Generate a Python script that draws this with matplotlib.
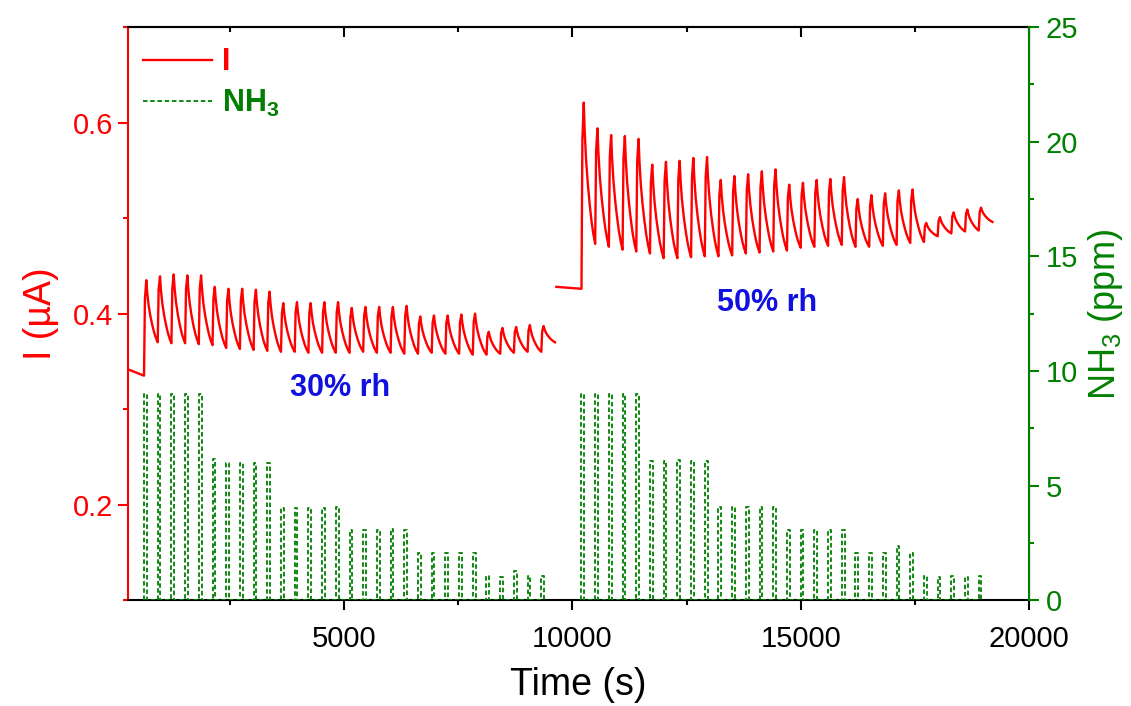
import numpy as np
import matplotlib
matplotlib.use('Agg')
import matplotlib.pyplot as plt
from matplotlib.ticker import MultipleLocator

plt.rcParams['font.family'] = 'Liberation Sans'
plt.rcParams['mathtext.default'] = 'regular'

# pulse timing (s)
period = 300
pulse_on = 60
t_start_30 = 620
t_start_50 = 10200

# NH3 pulse heights (ppm), 6 groups x 5 pulses
nh3_30 = [9.0, 9.0, 9.0, 9.0, 9.0,
          6.15, 6.0, 6.0, 6.0, 6.0,
          4.0, 4.0, 4.0, 4.0, 4.05,
          3.05, 3.05, 3.05, 3.1, 3.05,
          2.05, 2.05, 2.05, 2.05, 2.05,
          1.05, 1.0, 1.27, 1.05, 1.05]
nh3_50 = [9.0, 9.0, 9.0, 9.0, 9.0,
          6.05, 6.05, 6.1, 6.05, 6.05,
          4.05, 4.05, 4.05, 4.05, 4.05,
          3.05, 3.05, 3.05, 3.05, 3.05,
          2.05, 2.05, 2.05, 2.35, 2.05,
          1.05, 1.0, 1.05, 1.0, 1.05]

# current response (uA): peak of each cycle and value at its end
peak_30 = [0.435, 0.439, 0.441, 0.440, 0.440,
           0.428, 0.426, 0.426, 0.425, 0.423,
           0.411, 0.412, 0.411, 0.412, 0.412,
           0.406, 0.407, 0.407, 0.407, 0.408,
           0.397, 0.398, 0.398, 0.399, 0.400,
           0.381, 0.385, 0.386, 0.388, 0.387]
trough_30 = [0.370, 0.369, 0.369, 0.368, 0.367,
             0.364, 0.363, 0.362, 0.361, 0.360,
             0.360, 0.359, 0.359, 0.359, 0.359,
             0.360, 0.359, 0.359, 0.358, 0.358,
             0.359, 0.358, 0.358, 0.357, 0.357,
             0.358, 0.359, 0.360, 0.360, 0.370]
peak_50 = [0.621, 0.594, 0.587, 0.586, 0.583,
           0.556, 0.559, 0.560, 0.563, 0.564,
           0.540, 0.544, 0.546, 0.549, 0.551,
           0.535, 0.537, 0.540, 0.541, 0.543,
           0.520, 0.524, 0.526, 0.529, 0.530,
           0.495, 0.501, 0.506, 0.509, 0.511]
trough_50 = [0.473, 0.470, 0.467, 0.465, 0.463,
             0.458, 0.458, 0.459, 0.460, 0.460,
             0.461, 0.463, 0.464, 0.465, 0.466,
             0.469, 0.470, 0.471, 0.472, 0.470,
             0.470, 0.471, 0.472, 0.474, 0.475,
             0.481, 0.484, 0.486, 0.487, 0.496]

# baseline before the first pulse: (time, current)
base_30 = ([250, 620], [0.342, 0.335])
base_50 = ([9650, 10200], [0.428, 0.426])

# shape of one response cycle (s after pulse start, fraction of peak height)
cyc_t = [0, 20, 50, 70, 100, 140, 180, 220, 260, 300]
cyc_f = [0, 0.8, 1, 0.8, 0.6, 0.42, 0.28, 0.16, 0.07, 0]
t_peak = 50


def current_trace(t0, base, peaks, troughs):
    ts = list(base[0])
    vs = list(base[1])
    start = vs[-1]
    for k, (p, tr) in enumerate(zip(peaks, troughs)):
        tc = t0 + k * period
        for dt, f in zip(cyc_t[1:], cyc_f[1:]):
            lo = start if dt <= t_peak else tr
            ts.append(tc + dt)
            vs.append(lo + f * (p - lo))
        start = tr
    return ts, vs


def nh3_trace(t0, heights):
    ts, vs = [], []
    for k, h in enumerate(heights):
        tc = t0 + k * period
        ts += [tc, tc, tc + pulse_on, tc + pulse_on]
        vs += [0, h, h, 0]
    return ts, vs


red = '#ff0000'
green = '#008000'

fig = plt.figure(figsize=(11.31, 7.06), dpi=100)
ax = fig.add_axes([0.1132, 0.150, 0.7966, 0.8116])
ax2 = ax.twinx()

for t0, base, pk, tr in [(t_start_30, base_30, peak_30, trough_30),
                         (t_start_50, base_50, peak_50, trough_50)]:
    t, v = current_trace(t0, base, pk, tr)
    l1, = ax.plot(t, v, color=red, lw=1.7)

for t0, h in [(t_start_30, nh3_30), (t_start_50, nh3_50)]:
    t, v = nh3_trace(t0, h)
    l2, = ax2.plot(t, v, color=green, lw=1.3, linestyle=(0, (2.5, 1.5)))

ax.set_xlim(270, 20000)
ax.set_ylim(0.1, 0.7)
ax2.set_ylim(0, 25)

ax.xaxis.set_major_locator(MultipleLocator(5000))
ax.xaxis.set_minor_locator(MultipleLocator(2500))
ax.yaxis.set_major_locator(MultipleLocator(0.2))
ax.yaxis.set_minor_locator(MultipleLocator(0.1))
ax2.yaxis.set_major_locator(MultipleLocator(5))
ax2.yaxis.set_minor_locator(MultipleLocator(2.5))

ax.tick_params(axis='x', which='both', direction='out', top=False, width=1.5,
               labelsize=21, colors='black', pad=11)
ax.tick_params(axis='x', which='major', length=7)
ax.tick_params(axis='x', which='minor', length=3.5)
ax.tick_params(axis='y', which='both', direction='out', width=1.5,
               labelsize=21, colors=red)
ax.tick_params(axis='y', which='major', length=7)
ax.tick_params(axis='y', which='minor', length=3.5)
ax2.tick_params(axis='y', which='both', direction='out', width=1.5,
                labelsize=21, colors=green, pad=5)
ax2.tick_params(axis='y', which='major', length=7)
ax2.tick_params(axis='y', which='minor', length=3.5)

# top axis ticks pointing inward
secx = ax.secondary_xaxis('top')
secx.xaxis.set_major_locator(MultipleLocator(5000))
secx.xaxis.set_minor_locator(MultipleLocator(2500))
secx.tick_params(axis='x', which='both', direction='in', width=1.5, labeltop=False)
secx.tick_params(axis='x', which='major', length=7)
secx.tick_params(axis='x', which='minor', length=3.5)
secx.spines['top'].set_linewidth(1.5)

for s in ['top', 'bottom']:
    ax.spines[s].set_linewidth(1.5)
ax.spines['left'].set_color(red)
ax.spines['left'].set_linewidth(1.5)
ax2.spines['right'].set_color(green)
ax2.spines['right'].set_linewidth(1.5)
ax2.spines['left'].set_visible(False)
ax2.spines['top'].set_visible(False)
ax2.spines['bottom'].set_visible(False)

ax.set_xlabel('Time (s)', fontsize=27, labelpad=10)
ax.set_ylabel('I (µA)', fontsize=27, color=red, labelpad=10)
ax2.set_ylabel('NH$_3$ (ppm)', fontsize=26, color=green, labelpad=6)

ax.text(4910, 0.322, '30% rh', color='#1010e0', fontsize=22,
        fontweight='bold', ha='center', va='center')
ax.text(14275, 0.411, '50% rh', color='#1010e0', fontsize=22,
        fontweight='bold', ha='center', va='center')

ax2.legend([l1, l2], ['I', 'NH$_3$'], loc='upper left',
           bbox_to_anchor=(0.003, 0.986), frameon=False, handlelength=2.25,
           handletextpad=0.35, labelspacing=0.35, borderpad=0.2,
           borderaxespad=0.2, labelcolor='linecolor',
           prop={'size': 22, 'weight': 'bold'})

fig.savefig('out.png', dpi=100, facecolor='white')
